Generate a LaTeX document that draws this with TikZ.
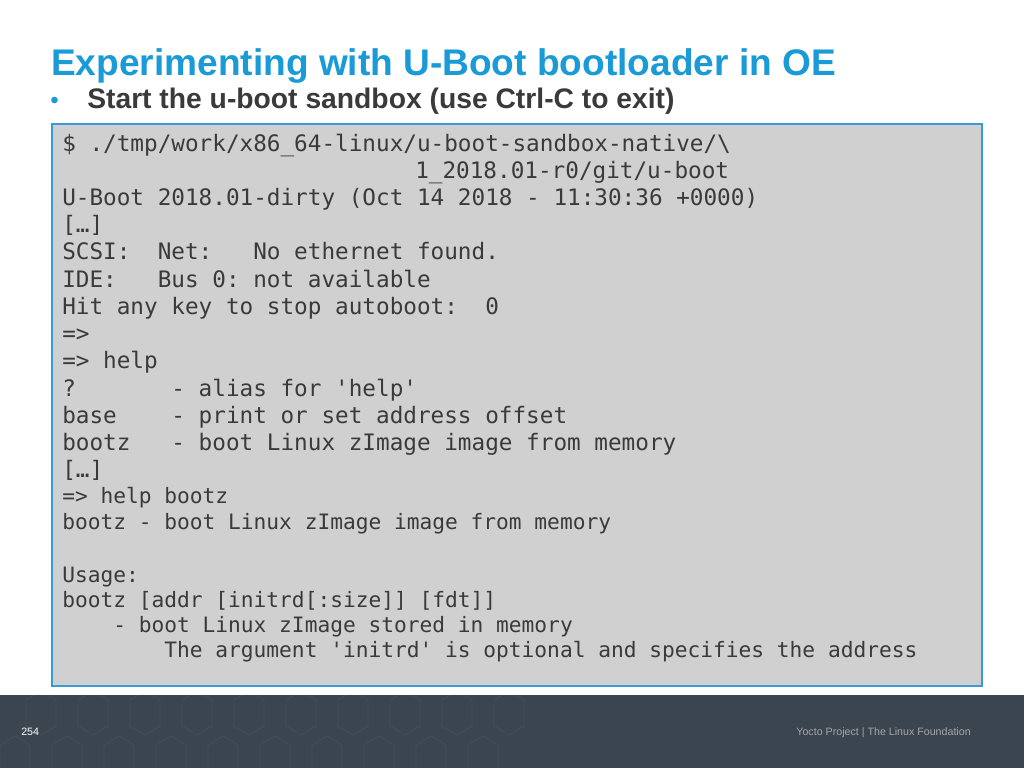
\documentclass[tikz,border=0pt]{standalone}
\usepackage{fontspec}
\setmainfont{Liberation Sans}
\setmonofont{DejaVu Sans Mono}
\definecolor{ttl}{HTML}{1A9AD6}
\definecolor{boxfill}{HTML}{D0D0D0}
\definecolor{boxline}{HTML}{3A9AD9}
\definecolor{foot}{HTML}{3B4550}
\definecolor{codec}{HTML}{3A3A3A}
\newcommand{\us}{\char"5F\relax}
\begin{document}
\begin{tikzpicture}[x=0.75pt,y=-0.75pt,
  big/.style={anchor=base west,inner sep=0,text=codec,font=\ttfamily\fontsize{17.0}{20}\selectfont},
  small/.style={anchor=base west,inner sep=0,text=codec,font=\ttfamily\fontsize{15.9}{19}\selectfont}]
\useasboundingbox (0,0) rectangle (1024,768);
\fill[white] (0,0) rectangle (1024,768);
\fill[foot] (0,695) rectangle (1024,768);
\foreach \i in {0,...,9}{
  \draw[white,opacity=0.03,line width=1pt] ({\i*52+26},700) -- ++(15,-9) -- ++(15,9) -- ++(0,26) -- ++(-15,9) -- ++(-15,-9) -- cycle;
  \draw[white,opacity=0.03,line width=1pt] ({\i*52},745) -- ++(15,-9) -- ++(15,9) -- ++(0,26) -- ++(-15,9) -- ++(-15,-9) -- cycle;
}
\node[anchor=base west,inner sep=0,text=white,font=\fontsize{8}{10}\selectfont] (pg) at (21,735) {254};
\node[anchor=base east,inner sep=0,text=gray!70,font=\fontsize{8}{10}\selectfont] (ft) at (971,735) {Yocto Project | The Linux Foundation};
\node[anchor=base west,inner sep=0,text=ttl,font=\bfseries\fontsize{27.8}{30}\selectfont] (title) at (51,75) {Experimenting with U-Boot bootloader in OE};
\node[anchor=base west,inner sep=0,text=ttl,font=\fontsize{18}{20}\selectfont] (bul) at (50,108) {•};
\node[anchor=base west,inner sep=0,text=codec,font=\bfseries\fontsize{21.2}{22}\selectfont] (sub) at (87,108) {Start the u-boot sandbox (use Ctrl-C to exit)};
\draw[boxline,fill=boxfill,line width=1pt] (52,124) rectangle (982,686);
\node[big] (l1) at (62,151) {\$ ./tmp/work/x86\us 64-linux/u-boot-sandbox-native/\textbackslash};
\node[big] (l2) at (415,178) {1\us 2018.01-r0/git/u-boot};
\node[big] (l3) at (62,205) {U-Boot 2018.01-dirty (Oct 14 2018 - 11:30:36 +0000)};
\node[big] (l4) at (62,232) {[…]};
\node[big] (l5) at (62,259) {SCSI:\ \ Net:\ \ \ No ethernet found.};
\node[big] (l6) at (62,287) {IDE:\ \ \ Bus 0: not available};
\node[big] (l7) at (62,314) {Hit any key to stop autoboot:\ \ 0};
\node[big] (l8) at (62,341) {=>};
\node[big] (l9) at (62,368) {=> help};
\node[big] (l10) at (62,396) {?\ \ \ \ \ \ \ - alias for 'help'};
\node[big] (l11) at (62,423) {base\ \ \ \ - print or set address offset};
\node[big] (l12) at (62,450) {bootz\ \ \ - boot Linux zImage image from memory};
\node[big] (l13) at (62,477) {[…]};
\node[small] (l14) at (62,503) {=> help bootz};
\node[small] (l15) at (62,529) {bootz - boot Linux zImage image from memory};
\node[small] (l16) at (62,582) {Usage:};
\node[small] (l17) at (62,607) {bootz [addr [initrd[:size]] [fdt]]};
\node[small] (l18) at (62,632) {\ \ \ \ - boot Linux zImage stored in memory};
\node[small] (l19) at (62,657) {\ \ \ \ \ \ \ \ The argument 'initrd' is optional and specifies the address};
\end{tikzpicture}
\end{document}
